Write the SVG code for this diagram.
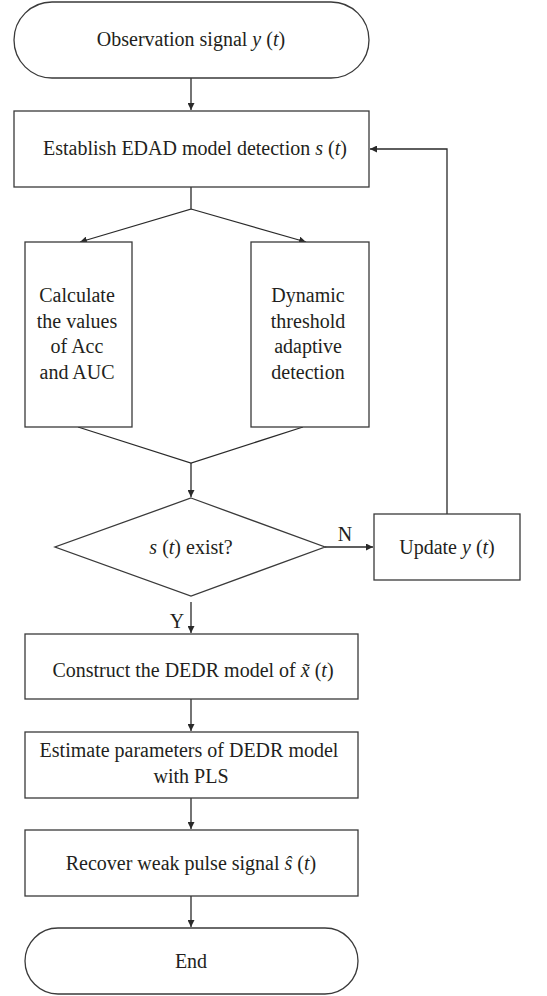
<svg xmlns="http://www.w3.org/2000/svg" width="547" height="996" viewBox="0 0 547 996">
<style>
.n{fill:#fff;stroke:#3a3a3a;stroke-width:1.3}
.c{fill:none;stroke:#2a2a2a;stroke-width:1.3}
text{font-family:"Liberation Serif","Times New Roman",serif;font-size:20px;fill:#231f20;text-anchor:middle}
.i{font-style:italic}
</style>
<defs>
<marker id="a" viewBox="0 0 10 10" refX="10" refY="5" markerWidth="7" markerHeight="7" markerUnits="userSpaceOnUse" orient="auto">
<path d="M0,0 L10,5 L0,10 z" fill="#2a2a2a"/>
</marker>
</defs>
<rect width="547" height="996" fill="#fff"/>
<g id="connectors">
<path class="c" d="M191,78 V110" marker-end="url(#a)"/>
<path class="c" d="M191,187 V209 L80,242" marker-end="url(#a)"/>
<path class="c" d="M191,209 L306,242" marker-end="url(#a)"/>
<path class="c" d="M78,427 L191,463 L303,427"/>
<path class="c" d="M191,463 V497" marker-end="url(#a)"/>
<path class="c" d="M325,547 H373" marker-end="url(#a)"/>
<path class="c" d="M447,514 V149 H370" marker-end="url(#a)"/>
<path class="c" d="M191,602 V633" marker-end="url(#a)"/>
<path class="c" d="M191,699 V731" marker-end="url(#a)"/>
<path class="c" d="M191,798 V829" marker-end="url(#a)"/>
<path class="c" d="M191,896 V927" marker-end="url(#a)"/>
<text x="345" y="541">N</text>
<text x="177" y="628">Y</text>
</g>
<g id="start">
<rect class="n" x="14" y="2" width="355" height="76" rx="38" ry="38"/>
<text x="191" y="46">Observation signal <tspan class="i">y</tspan> (<tspan class="i">t</tspan>)</text>
</g>
<g id="establish">
<rect class="n" x="14" y="111" width="355" height="76"/>
<text x="195" y="155">Establish EDAD model detection <tspan class="i">s</tspan> (<tspan class="i">t</tspan>)</text>
</g>
<g id="calculate">
<rect class="n" x="25" y="242" width="107" height="185"/>
<text x="77" y="302">Calculate</text>
<text x="77" y="328">the values</text>
<text x="77" y="353">of Acc</text>
<text x="77" y="379">and AUC</text>
</g>
<g id="dynamic">
<rect class="n" x="251" y="242" width="118" height="185"/>
<text x="308" y="302">Dynamic</text>
<text x="308" y="328">threshold</text>
<text x="308" y="353">adaptive</text>
<text x="308" y="379">detection</text>
</g>
<g id="decision">
<polygon class="n" points="191,498 325,547 191,596 55,547"/>
<text x="191" y="554"><tspan class="i">s</tspan> (<tspan class="i">t</tspan>) exist?</text>
</g>
<g id="update">
<rect class="n" x="374" y="514" width="146" height="66"/>
<text x="447" y="554">Update <tspan class="i">y</tspan> (<tspan class="i">t</tspan>)</text>
</g>
<g id="construct">
<rect class="n" x="25" y="634" width="333" height="65"/>
<text x="193" y="677">Construct the DEDR model of <tspan class="i">x̃</tspan> (<tspan class="i">t</tspan>)</text>
</g>
<g id="estimate">
<rect class="n" x="25" y="732" width="333" height="66"/>
<text x="189" y="757">Estimate parameters of DEDR model</text>
<text x="191" y="783">with PLS</text>
</g>
<g id="recover">
<rect class="n" x="25" y="830" width="333" height="66"/>
<text x="191" y="870">Recover weak pulse signal <tspan class="i">ŝ</tspan> (<tspan class="i">t</tspan>)</text>
</g>
<g id="end">
<rect class="n" x="25" y="928" width="333" height="66" rx="33" ry="33"/>
<text x="191" y="968">End</text>
</g>
</svg>
